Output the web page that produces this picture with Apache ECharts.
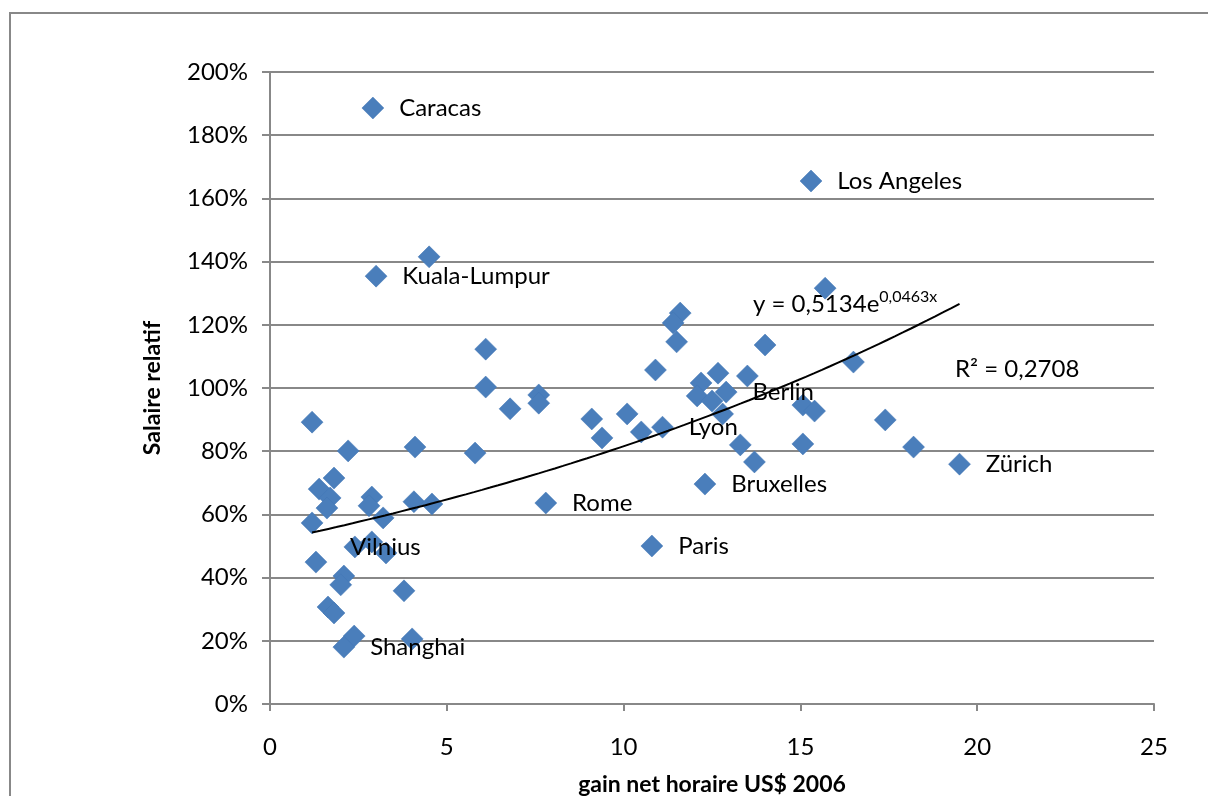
<!DOCTYPE html>
<html>
<head>
<meta charset="utf-8">
<script src="https://cdn.jsdelivr.net/npm/echarts@6/dist/echarts.min.js"></script>
<style>
  html, body { margin: 0; padding: 0; background: #fff; }
  #chart { width: 1208px; height: 796px; }
</style>
</head>
<body>
<div id="chart"></div>
<script>
// gain net horaire (US$ 2006)
var gainNet = [2.91, 15.3, 4.5, 3.0, 15.7, 11.6, 11.4, 11.5, 14.0, 6.1,
  10.9, 16.5, 12.67, 13.5, 6.1, 12.19, 12.9, 12.08, 12.5, 12.8,
  15.07, 15.4, 7.6, 7.6, 6.79, 9.1, 10.1, 11.1, 10.5, 9.39,
  17.4, 1.19, 13.3, 13.7, 15.07, 18.2, 19.5, 4.1, 2.21, 5.8,
  1.81, 1.39, 1.7, 1.61, 2.88, 2.8, 4.07, 4.58, 7.8, 12.3,
  1.19, 3.2, 2.4, 2.88, 3.28, 1.3, 2.09, 2.0, 3.79, 1.64,
  1.81, 2.38, 2.09, 4.02, 10.8];
// salaire relatif (%)
var salaireRelatif = [188.6, 165.5, 141.5, 135.4, 131.6, 123.7, 120.6, 114.6, 113.6, 112.3,
  105.7, 108.2, 104.7, 103.8, 100.3, 101.6, 98.7, 97.5, 95.9, 91.8,
  94.6, 92.7, 97.8, 95.2, 93.4, 90.2, 91.8, 87.6, 86.1, 84.2,
  89.9, 89.2, 82.0, 76.6, 82.3, 81.3, 75.9, 81.3, 80.1, 79.4,
  71.5, 68.0, 65.2, 62.0, 65.5, 62.7, 64.0, 63.3, 63.6, 69.6,
  57.3, 58.9, 49.7, 51.3, 47.8, 44.9, 40.5, 37.7, 35.8, 30.7,
  28.8, 21.5, 18.0, 20.6, 50.0];
var villes = ['Caracas', 'Los Angeles', '', 'Kuala-Lumpur', '', '', '', '', '', '',
  '', '', '', '', '', '', 'Berlin', '', '', '',
  '', '', '', '', '', '', '', 'Lyon', '', '',
  '', '', '', '', '', '', 'Zürich', '', '', '',
  '', '', '', '', '', '', '', '', 'Rome', 'Bruxelles',
  '', '', 'Vilnius', '', '', '', '', '', '', '',
  '', '', 'Shanghai', '', 'Paris'];
var yTicks = [0, 20, 40, 60, 80, 100, 120, 140, 160, 180, 200];
var xTicks = [0, 5, 10, 15, 20, 25];

// courbe de tendance exponentielle affichée : y = 0,5134e^(0,0463x)
var trendA = 0.5134, trendB = 0.0463;
var trendFrom = 1.19, trendTo = 19.5;

var FONT = 'Lato';

var points = gainNet.map(function (x, i) {
  var item = { name: villes[i], value: [x, salaireRelatif[i]] };
  if (villes[i]) {
    item.label = { show: true };
    if (villes[i] === 'Vilnius') {
      item.label.offset = [-31, 0];
    }
  }
  return item;
});

var trend = [];
for (var k = 0; k <= 80; k++) {
  var tx = trendFrom + (trendTo - trendFrom) * k / 80;
  trend.push([tx, 100 * trendA * Math.exp(trendB * tx)]);
}

var chart = echarts.init(document.getElementById('chart'));
chart.setOption({
  animation: false,
  textStyle: { fontFamily: FONT },
  grid: { left: 270, top: 72, right: 54, bottom: 92, outerBoundsMode: 'none', containLabel: false },
  xAxis: {
    type: 'value',
    min: xTicks[0],
    max: xTicks[xTicks.length - 1],
    interval: 5,
    name: 'gain net horaire US$ 2006',
    nameLocation: 'middle',
    nameGap: 69,
    nameTextStyle: { fontFamily: FONT, fontSize: 23, fontWeight: 'bold', color: '#000' },
    axisLine: { show: true, lineStyle: { color: '#888', width: 2 } },
    axisTick: { show: true, length: 7, lineStyle: { color: '#888', width: 2 } },
    axisLabel: { fontFamily: FONT, fontSize: 24, color: '#000', margin: 31 },
    splitLine: { show: false }
  },
  yAxis: {
    type: 'value',
    min: yTicks[0],
    max: yTicks[yTicks.length - 1],
    interval: 20,
    name: 'Salaire relatif',
    nameLocation: 'middle',
    nameGap: 106,
    nameTextStyle: { fontFamily: FONT, fontSize: 23, fontWeight: 'bold', color: '#000' },
    axisLine: { show: true, lineStyle: { color: '#888', width: 2 } },
    axisTick: { show: true, length: 8, lineStyle: { color: '#888', width: 2 } },
    axisLabel: {
      fontFamily: FONT, fontSize: 24, color: '#000', margin: 22,
      formatter: function (v) { return v + '%'; }
    },
    splitLine: { show: true, lineStyle: { color: '#888', width: 2 } }
  },
  graphic: [
    {
      type: 'rect', silent: true,
      shape: { x: 10, y: 13, width: 1250, height: 850 },
      style: { fill: 'none', stroke: '#888', lineWidth: 2 }
    },
    {
      type: 'text', left: 753, top: 289, silent: true,
      style: {
        text: '{a|y = 0,5134e}{b|0,0463x}',
        rich: {
          a: { fontFamily: FONT, fontSize: 24, fill: '#000', lineHeight: 32 },
          b: { fontFamily: FONT, fontSize: 16, fill: '#000', padding: [0, 0, 14, 0] }
        }
      }
    },
    {
      type: 'text', left: 955, top: 357, silent: true,
      style: { text: 'R² = 0,2708', fontFamily: FONT, fontSize: 24, fill: '#000' }
    }
  ],
  series: [
    {
      type: 'scatter',
      symbol: 'diamond',
      symbolSize: 22,
      itemStyle: { color: '#4a7ebb', opacity: 1, borderColor: '#4376b4', borderWidth: 0.5 },
      label: {
        show: false,
        position: 'right',
        distance: 15,
        formatter: '{b}',
        fontFamily: FONT,
        fontSize: 24,
        color: '#000'
      },
      data: points,
      z: 3
    },
    {
      type: 'line',
      data: trend,
      showSymbol: false,
      smooth: false,
      lineStyle: { color: '#000', width: 2 },
      z: 4
    }
  ]
});
</script>
</body>
</html>
